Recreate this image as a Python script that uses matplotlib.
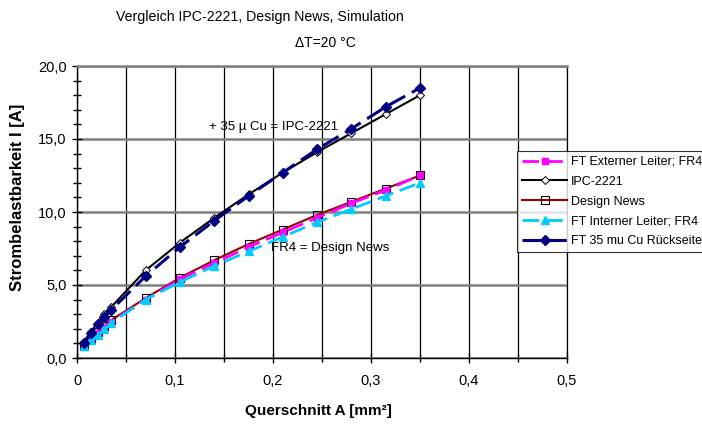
import matplotlib
matplotlib.use("Agg")
import matplotlib.pyplot as plt
from matplotlib.ticker import MultipleLocator, FuncFormatter

plt.rcParams['font.family'] = ['Liberation Sans', 'DejaVu Sans']

# cross section A [mm^2] (35 um copper, widths 0.2 .. 10 mm)
querschnitt = [0.007, 0.014, 0.021, 0.028, 0.035, 0.07, 0.105, 0.14,
               0.175, 0.21, 0.245, 0.28, 0.315, 0.35]

ft_extern = [0.8, 1.3, 1.7, 2.1, 2.5, 4.0, 5.4, 6.5, 7.6, 8.6, 9.6, 10.6, 11.5, 12.5]
ipc_2221 = [1.1, 1.8, 2.4, 3.0, 3.5, 6.0, 7.9, 9.6, 11.2, 12.7, 14.1, 15.4, 16.7, 18.0]
design_news = [0.8, 1.3, 1.8, 2.2, 2.6, 4.1, 5.5, 6.7, 7.8, 8.8, 9.8, 10.7, 11.6, 12.5]
ft_intern = [0.8, 1.2, 1.6, 2.0, 2.4, 4.0, 5.2, 6.3, 7.3, 8.3, 9.3, 10.2, 11.1, 12.0]
ft_35_cu = [1.0, 1.7, 2.3, 2.8, 3.3, 5.6, 7.6, 9.4, 11.1, 12.7, 14.3, 15.7, 17.2, 18.5]

W, H = 702, 426
fig = plt.figure(figsize=(W / 100, H / 100), dpi=100)
ax = fig.add_axes([77 / W, 1 - 358 / H, (567 - 77) / W, (358 - 66) / H])

dash = (0, (6, 2.5))
l_ipc, = ax.plot(querschnitt, ipc_2221, color="black", lw=1.5, marker="D",
                 ms=4, mfc="white", mec="black", mew=0.7, label="IPC-2221", zorder=3)
l_dn, = ax.plot(querschnitt, design_news, color="#990000", lw=1.5, marker="s",
                ms=6, mfc="none", mec="black", mew=0.8, label="Design News", zorder=3)
l_ext, = ax.plot(querschnitt, ft_extern, color="#FF00FF", lw=2, ls=dash, marker="s",
                 ms=5, mfc="#FF00FF", mec="#FF00FF", label="FT Externer Leiter; FR4", zorder=4)
l_int, = ax.plot(querschnitt, ft_intern, color="#00CCFF", lw=2, ls=dash, marker="^",
                 ms=6, mfc="#00CCFF", mec="#00CCFF", label="FT Interner Leiter; FR4", zorder=5)
l_35, = ax.plot(querschnitt, ft_35_cu, color="#000080", lw=2.2, ls=dash, marker="D",
                ms=5, mfc="#000080", mec="#000080", label="FT 35 mu Cu Rückseite", zorder=6)

ax.set_xlim(0, 0.5)
ax.set_ylim(0, 20)
ax.xaxis.set_major_locator(MultipleLocator(0.1))
ax.xaxis.set_minor_locator(MultipleLocator(0.05))
ax.yaxis.set_major_locator(MultipleLocator(5))
ax.yaxis.set_minor_locator(MultipleLocator(1))
ax.xaxis.set_major_formatter(FuncFormatter(lambda v, p: "0" if abs(v) < 1e-9 else ("%.1f" % v).replace(".", ",")))
ax.yaxis.set_major_formatter(FuncFormatter(lambda v, p: ("%.1f" % v).replace(".", ",")))

ax.grid(True, which="both", axis="x", color="black", lw=0.9)
ax.grid(True, which="major", axis="y", color="#808080", lw=1.8)
ax.set_axisbelow(True)
ax.tick_params(axis="both", which="both", direction="inout", labelsize=10.5, colors="black")
ax.tick_params(axis="both", which="major", length=7, width=1)
ax.tick_params(axis="both", which="minor", length=6, width=1)
ax.tick_params(axis="x", pad=8)
ax.tick_params(axis="y", pad=4)
ax.spines["top"].set_color("#808080")
ax.spines["top"].set_linewidth(1.8)
ax.spines["right"].set_color("black")
ax.spines["right"].set_linewidth(0.9)
for side in ["left", "bottom"]:
    ax.spines[side].set_linewidth(1)

ax.text(0.135, 15.85, "+ 35 µ Cu = IPC-2221", fontsize=9.5, va="center", zorder=10)
ax.text(0.198, 7.5, "FR4 = Design News", fontsize=9.5, va="center", zorder=10)

fig.text(260 / W, 1 - 17 / H, "Vergleich IPC-2221, Design News, Simulation",
         ha="center", va="center", fontsize=10.2)
fig.text(325 / W, 1 - 43 / H, "ΔT=20 °C", ha="center", va="center", fontsize=10)
fig.text(318 / W, 1 - 411 / H, "Querschnitt A [mm²]", ha="center", va="center",
         fontsize=11, fontweight="bold")
fig.text(18 / W, 1 - 197 / H, "Strombelastbarkeit I [A]", ha="center", va="center",
         fontsize=12, fontweight="bold", rotation=90)

leg = fig.legend(handles=[l_ext, l_ipc, l_dn, l_int, l_35], loc="upper left",
                 bbox_to_anchor=(517 / W, 1 - 151 / H), fontsize=9, frameon=True,
                 fancybox=False, edgecolor="black", handlelength=3.6, handletextpad=0.3,
                 borderpad=0.4, labelspacing=0.62, borderaxespad=0)
leg.get_frame().set_linewidth(0.8)

fig.savefig("out.png", dpi=100)
